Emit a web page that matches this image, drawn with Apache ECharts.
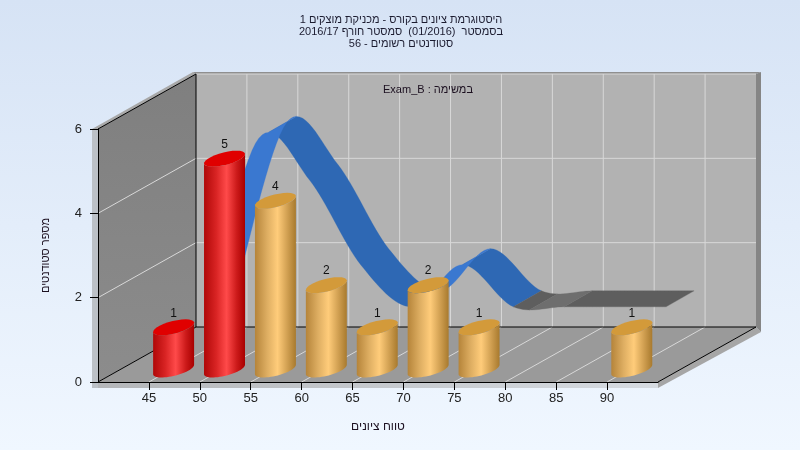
<!DOCTYPE html>
<html dir="rtl">
<head>
<meta charset="utf-8">
<style>html,body{margin:0;padding:0;background:#fff}#c{position:absolute;left:0;top:0;width:800px;height:450px}</style>
<script src="https://cdn.jsdelivr.net/npm/echarts@6/dist/echarts.min.js"></script>
</head>
<body>
<div id="c"></div>
<script>
const titleLines = ['היסטוגרמת ציונים בקורס - מכניקת מוצקים 1', 'בסמסטר  (01/2016)  סמסטר חורף 2016/17', 'סטודנטים רשומים - 56'];
const taskLabel = 'במשימה : Exam_B';
const xAxisName = 'טווח ציונים';
const yAxisName = 'מספר סטודנטים';
const barScores = [45, 50, 55, 60, 65, 70, 75, 90];
const barCounts = [1, 5, 4, 2, 1, 2, 1, 1];
const redScores = [45, 50];
const lineScores = [45, 50, 55, 60, 65, 70, 75, 80, 85, 90];
const lineValues = [1, 5, 4, 2, 1, 2, 1, 1, 1, 1];
const lineGreyFrom = 75;
const xMin = 40, xMax = 95, xStep = 5, yMin = 0, yMax = 6, yStep = 2;

const WALL = [98, -55];
const BAR_OFF = [24.7, -12.5];
const RIB_OFF = [59, -33];
const RIB_D = [28, -16];
const add = (p, d) => [p[0] + d[0], p[1] + d[1]];

function poly(points, fill) {
  return {type: 'polygon', shape: {points}, style: {fill}};
}
function line(a, b, stroke, w) {
  return {type: 'line', shape: {x1: a[0], y1: a[1], x2: b[0], y2: b[1]}, style: {stroke, lineWidth: w || 1}};
}

function renderWalls(params, api) {
  const fl = api.coord([xMin, yMin]), fr = api.coord([xMax, yMin]);
  const tl = api.coord([xMin, yMax]);
  const bl = add(fl, WALL), br = add(fr, WALL), btl = add(tl, WALL);
  const btr = [br[0], btl[1]];
  const kids = [];
  // outer thickness
  kids.push(poly([[fl[0] - 6, tl[1]], tl, [fl[0], fl[1] + 6], [fl[0] - 6, fl[1] + 6]], '#bcc1c7'));
  kids.push(poly([[fl[0], fl[1]], fr, [fr[0], fr[1] + 6], [fl[0], fl[1] + 6]],
    {type: 'linear', x: 0, y: 0, x2: 1, y2: 0, colorStops: [{offset: 0, color: '#b4b6b9'}, {offset: 1, color: '#d6dbe1'}]}));
  kids.push(poly([fr, br, [br[0] + 5, br[1] + 5], [fr[0], fr[1] + 6]], '#a6a6a6'));
  kids.push(poly([[tl[0] - 6, tl[1]], tl, btl, [btl[0] - 3, btl[1] - 2]], '#a8a8a8'));
  kids.push(poly([[btl[0] - 3, btl[1] - 2], [btr[0] + 5, btl[1] - 2], btr, btl], '#8f8f8f'));
  kids.push(poly([btr, [btr[0] + 5, btr[1] - 2], [br[0] + 5, br[1] + 5], br], '#858585'));
  // walls
  kids.push(poly([btl, btr, br, bl], '#b2b2b2'));
  kids.push(poly([tl, btl, bl, fl], {type: 'linear', x: 0, y: 0, x2: 0, y2: 1, colorStops: [{offset: 0, color: '#7f7f7f'}, {offset: 1, color: '#8c8c8c'}]}));
  kids.push(poly([fl, bl, br, fr], '#9a9a9a'));
  // grid
  const G = '#d8d8d8';
  for (let v = yMin + yStep; v <= yMax; v += yStep) {
    const a = api.coord([xMin, v]), b = add(a, WALL);
    if (v < yMax) kids.push(line(a, b, G));
    kids.push(line(b, [br[0], b[1]], G));
  }
  for (let x = xMin + xStep; x < xMax; x += xStep) {
    const a = api.coord([x, yMin]), b = add(a, WALL);
    kids.push(line(a, b, G));
    kids.push(line(b, [b[0], btl[1]], G));
  }
  // black edges
  kids.push(line(tl, btl, '#000'));
  kids.push(line(btl, bl, '#000'));
  kids.push(line(bl, br, '#000'));
  kids.push(line(fl, bl, '#000'));
  kids.push(line(fr, br, '#000'));
  return {type: 'group', children: kids};
}

function catmull(p0, p1, p2, p3, t) {
  const t2 = t * t, t3 = t2 * t;
  return [0, 1].map(k => 0.5 * (2 * p1[k] + (p2[k] - p0[k]) * t +
    (2 * p0[k] - 5 * p1[k] + 4 * p2[k] - p3[k]) * t2 +
    (3 * p1[k] - p0[k] - 3 * p2[k] + p3[k]) * t3));
}

function renderRibbon(params, api) {
  if (params.dataIndex !== 0) return null;
  const pts = lineScores.map((x, i) => add(api.coord([x, lineValues[i]]), RIB_OFF));
  const runs = [];
  const N = 16;
  for (let i = 0; i < pts.length - 1; i++) {
    const p0 = pts[Math.max(i - 1, 0)], p1 = pts[i], p2 = pts[i + 1], p3 = pts[Math.min(i + 2, pts.length - 1)];
    const grey = lineScores[i] >= lineGreyFrom;
    for (let s = 0; s < N; s++) {
      const a = catmull(p0, p1, p2, p3, s / N), b = catmull(p0, p1, p2, p3, (s + 1) / N);
      const rising = b[1] < a[1] - 0.02;
      const col = grey ? (rising ? '#6e6e6e' : '#5e5e5e') : (rising ? '#3a78d0' : '#2e68b4');
      let run = runs[runs.length - 1];
      if (!run || run.col !== col) {
        run = {col, rising, pts: [a]};
        runs.push(run);
      }
      run.pts.push(b);
    }
  }
  const toPoly = r => {
    const back = r.pts.map(p => add(p, RIB_D)).reverse();
    return {type: 'polygon', shape: {points: r.pts.concat(back)}, style: {fill: r.col, stroke: r.col, lineWidth: 0.3}};
  };
  const kids = runs.filter(r => !r.rising).map(toPoly).concat(runs.filter(r => r.rising).map(toPoly));
  return {type: 'group', children: kids};
}

function ellipsePts(c, from, to) {
  const a = 16.6, b = 12, k = 8, n = 28, out = [];
  for (let i = 0; i <= n; i++) {
    const t = from + (to - from) * i / n;
    out.push([c[0] + a * Math.cos(t) + b * Math.sin(t), c[1] - k * Math.sin(t)]);
  }
  return out;
}

function renderBar(params, api) {
  const x = api.value(0), v = api.value(1);
  const top = add(api.coord([x, v]), BAR_OFF), base = add(api.coord([x, yMin]), BAR_OFF);
  const red = redScores.includes(x);
  const t0 = Math.atan2(12, 16.6);
  const bodyFill = {type: 'linear', x: 0, y: 0, x2: 1, y2: 0, colorStops: red ? [
    {offset: 0, color: '#b00808'}, {offset: 0.3, color: '#d92424'}, {offset: 0.55, color: '#ff4a4a'},
    {offset: 0.8, color: '#cc1a1a'}, {offset: 1, color: '#a80000'}] : [
    {offset: 0, color: '#b5843a'}, {offset: 0.3, color: '#deae62'}, {offset: 0.55, color: '#ffcc7a'},
    {offset: 0.8, color: '#cf9e50'}, {offset: 1, color: '#a87a2e'}]};
  const upper = ellipsePts(top, t0 + Math.PI, t0 + 2 * Math.PI);
  const lower = ellipsePts(base, t0 + Math.PI, t0 + 2 * Math.PI).reverse();
  return {type: 'group', children: [
    {type: 'polygon', shape: {points: upper.concat(lower)}, style: {fill: bodyFill}},
    {type: 'polygon', shape: {points: ellipsePts(top, 0, 2 * Math.PI)}, style: {fill: red ? '#e00000' : '#d39a3a'}},
    {type: 'text', style: {text: String(v), x: top[0], y: top[1] - 14, fill: '#111', font: '12px "Liberation Sans", Arial, sans-serif', align: 'center', verticalAlign: 'middle'}}
  ]};
}

const chart = echarts.init(document.getElementById('c'), null, {renderer: 'canvas', width: 800, height: 450});
const font = '"Liberation Sans", Arial, sans-serif';
chart.setOption({
  animation: false,
  backgroundColor: {type: 'linear', x: 0, y: 0, x2: 0, y2: 1, colorStops: [{offset: 0, color: '#d6e3f5'}, {offset: 1, color: '#f0f7ff'}]},
  title: [
    {text: titleLines.join('\n'), left: 396, top: 9, textAlign: 'center',
      textStyle: {fontFamily: font, fontSize: 11, fontWeight: 'normal', color: '#1c1c30', lineHeight: 12}},
    {text: taskLabel, left: 423, top: 79, textAlign: 'center',
      textStyle: {fontFamily: font, fontSize: 11, fontWeight: 'normal', color: '#1c1020'}}
  ],
  grid: {left: 98, right: 142, top: 129, bottom: 68, containLabel: false},
  xAxis: {
    type: 'value', min: xMin, max: xMax, interval: xStep, z: 10,
    name: xAxisName, nameLocation: 'middle', nameGap: 39,
    nameTextStyle: {fontFamily: font, fontSize: 12, color: '#1c1020'},
    axisLine: {show: true, onZero: false, lineStyle: {color: '#000', width: 1}},
    axisTick: {show: true, length: 8, lineStyle: {color: '#000'}},
    axisLabel: {margin: 10, fontFamily: font, fontSize: 13, color: '#222', showMinLabel: false, showMaxLabel: false, hideOverlap: false},
    splitLine: {show: false}
  },
  yAxis: {
    type: 'value', min: yMin, max: yMax, interval: yStep, z: 10,
    name: yAxisName, nameLocation: 'middle', nameGap: 47,
    nameTextStyle: {fontFamily: font, fontSize: 11, color: '#1c1020'},
    axisLine: {show: true, onZero: false, lineStyle: {color: '#000', width: 1}},
    axisTick: {show: true, length: 8, lineStyle: {color: '#000'}},
    axisLabel: {margin: 16, fontFamily: font, fontSize: 13, color: '#222'},
    splitLine: {show: false}
  },
  series: [
    {type: 'custom', name: 'walls', z: 1, silent: true, clip: false, renderItem: renderWalls, data: [[xMin, yMin]], encode: {x: 0, y: 1}},
    {type: 'custom', name: 'curve', z: 2, silent: true, clip: false, renderItem: renderRibbon,
      data: lineScores.map((x, i) => [x, lineValues[i]]), encode: {x: 0, y: 1}},
    {type: 'custom', name: 'bars', z: 3, silent: true, clip: false, renderItem: renderBar,
      data: barScores.map((x, i) => [x, barCounts[i]]), encode: {x: 0, y: 1}}
  ]
});
</script>
</body>
</html>
